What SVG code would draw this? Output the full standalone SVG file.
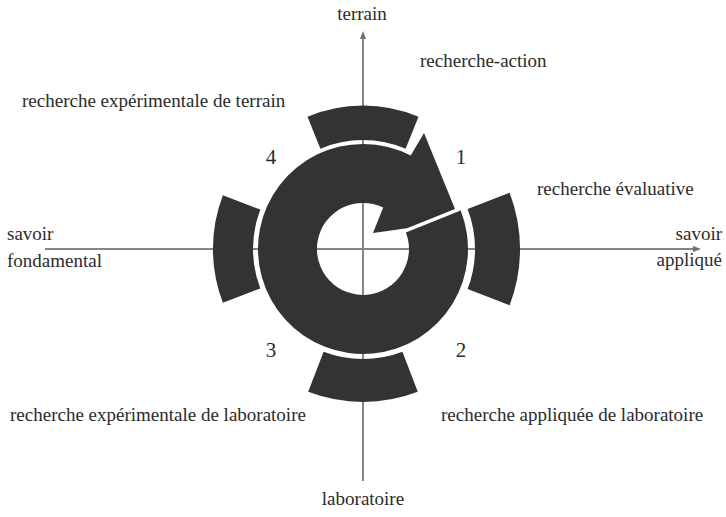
<svg xmlns="http://www.w3.org/2000/svg" width="726" height="517" viewBox="0 0 726 517">
<style>
.lbl{font-family:"Liberation Serif","Times New Roman",serif;font-size:19px;fill:#2b2b2b}
.num{font-family:"Liberation Serif","Times New Roman",serif;font-size:21px;fill:#2b2b2b;text-anchor:middle}
.axis{stroke:#858585;stroke-width:2;fill:none}
.shape{fill:#333333;stroke:none}
</style>
<defs>
<marker id="ah" viewBox="0 0 8 8" refX="4" refY="4" markerWidth="4" markerHeight="4" orient="auto" markerUnits="strokeWidth">
<path d="M0,1 L8,4 L0,7 Z" fill="#6f6f6f"/>
</marker>
</defs>
<rect width="726" height="517" fill="#ffffff"/>
<g id="connectors">
<line class="axis" x1="363" y1="481" x2="363" y2="35" marker-end="url(#ah)"/>
<line class="axis" x1="45" y1="249" x2="697" y2="249" marker-end="url(#ah)"/>
</g>
<g id="cycle">
<path class="shape" d="M405.9,232.4 L460.7,210.5 A105,105 0 1 1 410.7,155.4 L424,133 L455,209 L407,228.2 L373,233 L383.2,207.6 A46,46 0 1 0 405.9,232.4 Z"/>
</g>
<g id="seg-top">
<path class="shape" d="M307.5,116.7 A143,143 0 0 1 418.5,116.7 L405.6,148.7 A109,109 0 0 0 320.4,148.7 Z"/>
</g>
<g id="seg-right">
<path class="shape" d="M509.6,192.7 A157,157 0 0 1 509.6,305.3 L467.6,289.1 A112,112 0 0 0 467.6,208.9 Z"/>
</g>
<g id="seg-bottom">
<path class="shape" d="M308.2,391.8 A153,153 0 0 0 417.8,391.8 L402.4,351.7 A110,110 0 0 1 323.6,351.7 Z"/>
</g>
<g id="seg-left">
<path class="shape" d="M222.9,195.2 A150,150 0 0 0 222.9,302.8 L260.3,288.4 A110,110 0 0 1 260.3,209.6 Z"/>
</g>
<g id="labels">
<text class="lbl" x="362" y="20" text-anchor="middle">terrain</text>
<text class="lbl" x="420" y="67">recherche-action</text>
<text class="lbl" x="22" y="107">recherche expérimentale de terrain</text>
<text class="lbl" x="537" y="195">recherche évaluative</text>
<text class="lbl" x="7" y="240">savoir</text>
<text class="lbl" x="7" y="267">fondamental</text>
<text class="lbl" x="722" y="240" text-anchor="end">savoir</text>
<text class="lbl" x="722" y="266" text-anchor="end">appliqué</text>
<text class="lbl" x="10" y="421">recherche expérimentale de laboratoire</text>
<text class="lbl" x="441" y="421">recherche appliquée de laboratoire</text>
<text class="lbl" x="363" y="505" text-anchor="middle">laboratoire</text>
</g>
<g id="numbers">
<text class="num" x="271" y="164">4</text>
<text class="num" x="461" y="164">1</text>
<text class="num" x="271" y="357">3</text>
<text class="num" x="461" y="357">2</text>
</g>
</svg>
